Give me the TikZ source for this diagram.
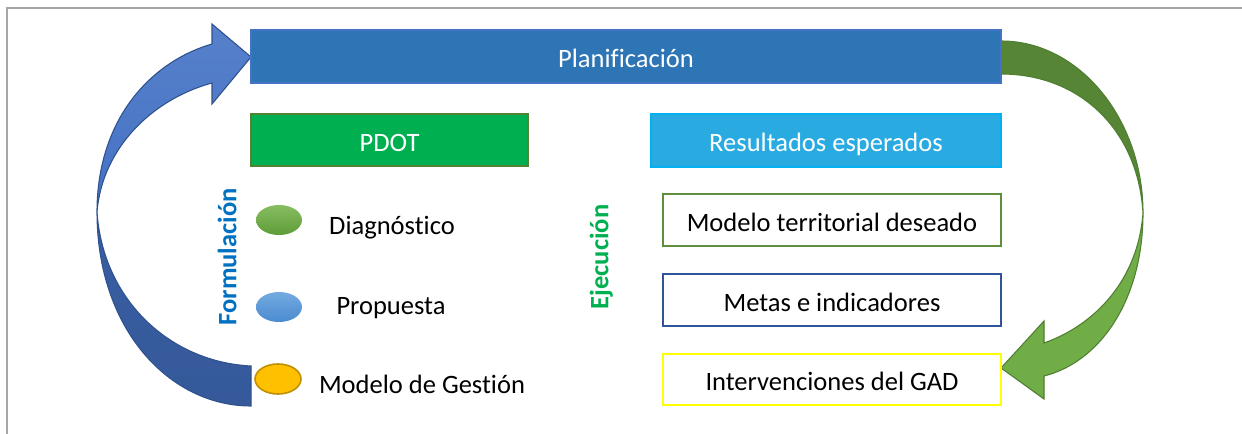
\documentclass[tikz,border=0pt]{standalone}
\usepackage{fontspec}
\setmainfont{Carlito}[Ligatures={NoCommon}]
\usetikzlibrary{shapes.geometric}
\definecolor{framegray}{HTML}{A6A6A6}
\definecolor{planfill}{HTML}{2E75B6}
\definecolor{planedge}{HTML}{4472C4}
\definecolor{pdotfill}{HTML}{00B050}
\definecolor{pdotedge}{HTML}{548235}
\definecolor{resfill}{HTML}{29ABE2}
\definecolor{resedge}{HTML}{00B0F0}
\definecolor{modedge}{HTML}{5E8E3E}
\definecolor{metedge}{HTML}{2F5597}
\definecolor{intedge}{HTML}{FFFF00}
\definecolor{formblue}{HTML}{0070C0}
\definecolor{ejegreen}{HTML}{00B050}
\definecolor{blueA}{HTML}{4472C4}
\definecolor{blueB}{HTML}{35599A}
\definecolor{blueEdge}{HTML}{2F528F}
\definecolor{greenA}{HTML}{568535}
\definecolor{greenB}{HTML}{70AD47}
\definecolor{greenEdge}{HTML}{507E32}
\definecolor{ellG1}{HTML}{88BC62}
\definecolor{ellG2}{HTML}{5E9D38}
\definecolor{ellB1}{HTML}{74AAE0}
\definecolor{ellB2}{HTML}{4A8BD0}
\definecolor{ellY}{HTML}{FFC000}
\definecolor{ellYedge}{HTML}{BF9000}
\begin{document}
\begin{tikzpicture}[x=0.75pt,y=-0.75pt,
  every node/.style={font=\fontsize{19.9}{24}\selectfont},
  boxstyle/.style={rectangle, inner sep=0pt, text height=16.9pt, text depth=0pt},
  ellstyle/.style={ellipse, minimum width=34.5pt, minimum height=22.5pt, inner sep=0pt},
  labelstyle/.style={inner sep=0pt, anchor=base},
  sidestyle/.style={inner sep=0pt, rotate=90, font=\fontsize{19.9}{24}\selectfont\bfseries, text height=16.9pt, text depth=0pt}]
\useasboundingbox (0,0) rectangle (1242,434);
\fill[white] (0,0) rectangle (1242,434);
\draw[framegray, line width=1.5pt] (7,434) -- (7,8) -- (1242,8);

% blue curved arrow (Formulacion)
\draw[blueEdge, line width=0.8pt, top color=blueB!80!blueA, bottom color=blueB]
  (97,212) .. controls (97,330) and (170,406) .. (251,406) -- (251,366)
  .. controls (170,362) and (103,300) .. (97,212) -- cycle;
\draw[blueEdge, line width=0.8pt, top color=blueA!90!white, bottom color=blueA]
  (97,212) .. controls (97,120) and (150,62) .. (212,44) -- (212,24) -- (251,57)
  -- (212,104) -- (212,83) .. controls (150,100) and (102,150) .. (97,212) -- cycle;

% green curved arrow (Ejecucion)
\draw[greenEdge, line width=0.8pt, fill=greenA]
  (1001,41) .. controls (1080,41) and (1143,120) .. (1143,213)
  .. controls (1138,130) and (1080,74) .. (1001,74) -- cycle;
\draw[greenEdge, line width=0.8pt, fill=greenB]
  (1143,213) .. controls (1143,300) and (1100,362) .. (1044,376) -- (1044,399)
  -- (1001,368) -- (1044,321) -- (1044,343)
  .. controls (1095,325) and (1138,280) .. (1143,213) -- cycle;

% boxes
\node[boxstyle, draw=planedge, line width=1pt, fill=planfill, text=white,
  minimum width=562.5pt, minimum height=39.75pt] (plan) at (626,56.5) {Planificación};
\node[boxstyle, draw=pdotedge, line width=1.2pt, fill=pdotfill, text=white,
  minimum width=207.75pt, minimum height=39pt] (pdot) at (389.5,140) {PDOT};
\node[boxstyle, draw=resedge, line width=1pt, fill=resfill, text=white,
  minimum width=262.5pt, minimum height=39.75pt] (res) at (826,140.5) {Resultados esperados};
\node[boxstyle, draw=modedge, line width=1.5pt, fill=white,
  minimum width=253.5pt, minimum height=39pt] (mod) at (832,220) {Modelo territorial deseado};
\node[boxstyle, draw=metedge, line width=1.5pt, fill=white,
  minimum width=253.5pt, minimum height=39pt] (met) at (832,300) {Metas e indicadores};
\node[boxstyle, draw=intedge, line width=1.8pt, fill=white,
  minimum width=253.5pt, minimum height=38.25pt] (int) at (832,379.5) {Intervenciones del GAD};

% ellipses and labels
\node[ellstyle, top color=ellG1, bottom color=ellG2] (e1) at (279,220) {};
\node[ellstyle, top color=ellB1, bottom color=ellB2] (e2) at (279,307) {};
\node[ellstyle, fill=ellY, draw=ellYedge, line width=1.2pt] (e3) at (278,379) {};
\node[labelstyle] (diag) at (392,235) {Diagnóstico};
\node[labelstyle] (prop) at (391,315) {Propuesta};
\node[labelstyle] (gest) at (422,393) {Modelo de Gestión};

% side labels
\node[sidestyle, text=formblue] (form) at (225,257) {Formulación};
\node[sidestyle, text=ejegreen] (eje) at (597,257) {Ejecución};
\end{tikzpicture}
\end{document}
